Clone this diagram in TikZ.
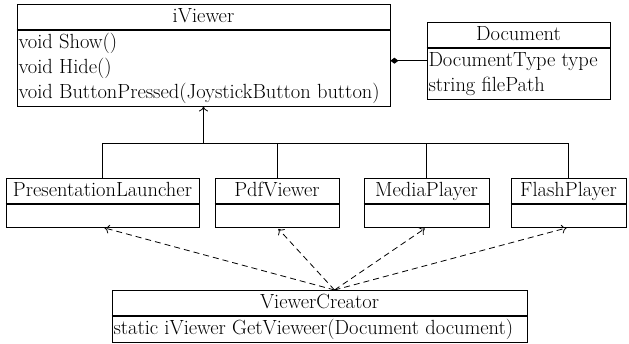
\documentclass[tikz,border=0pt]{standalone}
\usepackage{tikz}
\usetikzlibrary{arrows.meta,shapes.multipart,calc}

\tikzset{
  umlclass/.style={rectangle split, rectangle split parts=2, draw, line width=0.8pt,
    rectangle split part align={center,left}, rectangle split ignore empty parts=false,
    rectangle split empty part height=17pt, rectangle split empty part depth=5pt,
    inner xsep=1.5pt, inner ysep=0pt, align=left, anchor=north,
    font=\fontsize{20.5}{25}\selectfont},
  usesarrow/.style={-{To[length=5pt,width=9pt]}, dash pattern=on 6pt off 4pt, line width=0.8pt},
}

\newcommand{\headline}[1]{\draw[line width=1.6pt] (#1.text split west) -- (#1.text split east);}

\begin{document}
\begin{tikzpicture}[x=1pt,y=-1pt]
\useasboundingbox (0,0) rectangle (629,343);

\node[umlclass, minimum width=373pt] (iviewer) at (203.5,4)
  {\strut iViewer \nodepart{two} \strut void Show()\\ void Hide()\\ void ButtonPressed(JoystickButton button)\strut};
\node[umlclass, minimum width=183pt] (document) at (518.5,22)
  {\strut Document \nodepart{two} \strut DocumentType type\\ string filePath\strut};

\node[umlclass, minimum width=193pt] (launcher) at (102.5,178) {\strut PresentationLauncher \nodepart{two}};
\node[umlclass, minimum width=124pt] (pdfviewer) at (277,178) {\strut PdfViewer \nodepart{two}};
\node[umlclass, minimum width=125pt] (mediaplayer) at (426.5,178) {\strut MediaPlayer \nodepart{two}};
\node[umlclass, minimum width=115pt] (flashplayer) at (568.5,178) {\strut FlashPlayer \nodepart{two}};

\node[umlclass, minimum width=415pt] (creator) at (319.5,290)
  {\strut ViewerCreator \nodepart{two} \strut static iViewer GetVieweer(Document document)};

\foreach \n in {iviewer,document,launcher,pdfviewer,mediaplayer,flashplayer,creator}
  {\headline{\n}}

% inheritance
\coordinate (bus) at (203.5,143);
\draw[line width=0.8pt, -{To[length=5pt,width=9pt]}] (bus) -- (iviewer.south);
\foreach \n in {launcher,pdfviewer,mediaplayer,flashplayer}
  \draw[line width=0.8pt] (\n.north) |- (bus);

% composition
\draw[line width=0.8pt, -{Diamond[length=8pt,width=6pt]}] (document.west) -- (document.west -| iviewer.east);

% creation
\coordinate (src) at ($(creator.north)+(15,0)$);
\foreach \n in {launcher,pdfviewer,mediaplayer,flashplayer}
  \draw[usesarrow, shorten >=2pt] (src) -- (\n.south);
\end{tikzpicture}
\end{document}
